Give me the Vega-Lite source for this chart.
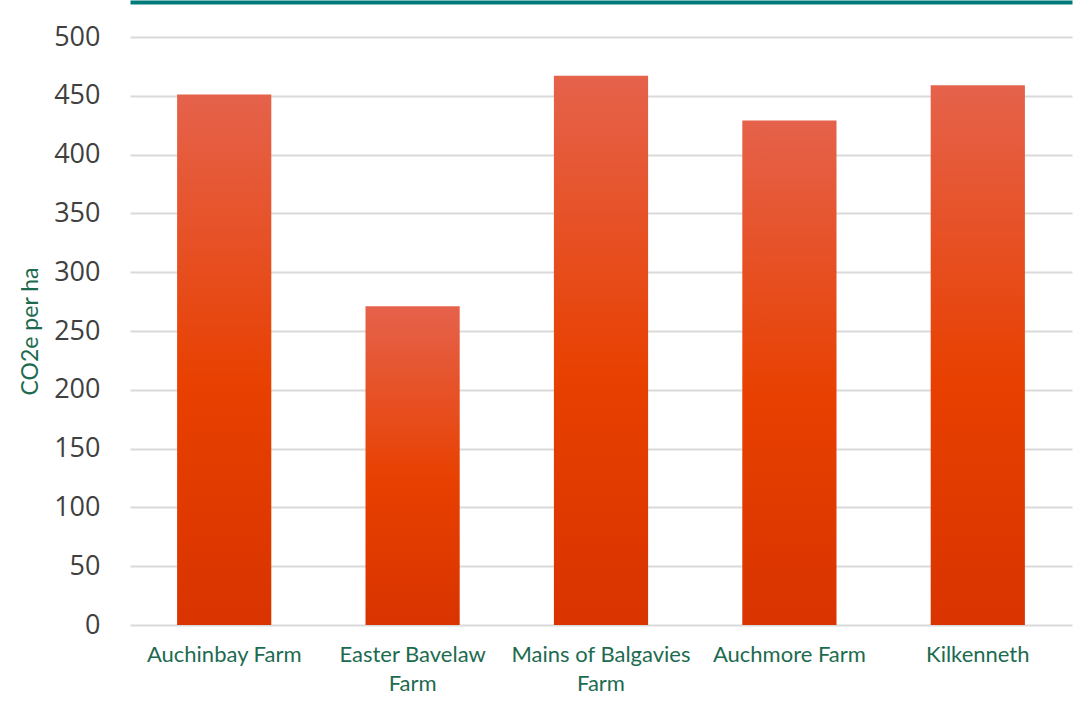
{
  "$schema": "https://vega.github.io/schema/vega-lite/v6.json",
  "autosize": "none",
  "width": 942,
  "height": 588,
  "padding": {"left": 130, "top": 37, "right": 4, "bottom": 87},
  "background": "white",
  "data": {"values": [
    {"farm": "Auchinbay Farm", "co2e": 451},
    {"farm": "Easter Bavelaw Farm", "co2e": 271},
    {"farm": "Mains of Balgavies Farm", "co2e": 467},
    {"farm": "Auchmore Farm", "co2e": 429},
    {"farm": "Kilkenneth", "co2e": 459}
  ]},
  "resolve": {"axis": {"x": "independent"}},
  "layer": [
    {
      "mark": {
        "type": "bar",
        "color": {
          "gradient": "linear", "x1": 0, "y1": 0, "x2": 0, "y2": 1,
          "stops": [
            {"offset": 0, "color": "#E5624B"},
            {"offset": 0.55, "color": "#E84000"},
            {"offset": 1, "color": "#D93400"}
          ]
        }
      },
      "encoding": {
        "x": {
          "field": "farm", "type": "nominal", "sort": null,
          "scale": {"paddingInner": 0.5, "paddingOuter": 0.25},
          "axis": {
            "title": null, "domain": false, "ticks": false, "labelAngle": 0,
            "labelFont": "Lato", "labelFontSize": 22, "labelColor": "#1D6B4F",
            "labelPadding": 19, "labelLineHeight": 29, "labelLimit": 300,
            "labelExpr": "datum.label == 'Easter Bavelaw Farm' ? ['Easter Bavelaw', 'Farm'] : datum.label == 'Mains of Balgavies Farm' ? ['Mains of Balgavies', 'Farm'] : datum.label"
          }
        },
        "y": {
          "field": "co2e", "type": "quantitative",
          "scale": {"domain": [0, 500]},
          "axis": {
            "title": "CO2e per ha", "titleFont": "Lato", "titleFontSize": 23,
            "titleFontWeight": "normal", "titleColor": "#1D6B4F", "titlePadding": 11,
            "values": [0, 50, 100, 150, 200, 250, 300, 350, 400, 450, 500],
            "domain": false, "ticks": false,
            "labelFont": "Open Sans", "labelFontSize": 27, "labelColor": "#404040",
            "labelPadding": 30,
            "grid": true, "gridColor": "#DADADA", "gridWidth": 2
          }
        }
      }
    },
    {
      "mark": {"type": "bar", "opacity": 0},
      "encoding": {
        "x": {
          "field": "farm", "type": "nominal", "sort": null,
          "axis": {
            "orient": "top", "title": null, "labels": false, "ticks": false,
            "grid": false, "domain": true, "domainColor": "#007A7A",
            "domainWidth": 4, "offset": 35
          }
        },
        "y": {"field": "co2e", "type": "quantitative"}
      }
    }
  ],
  "config": {"view": {"stroke": null}}
}
